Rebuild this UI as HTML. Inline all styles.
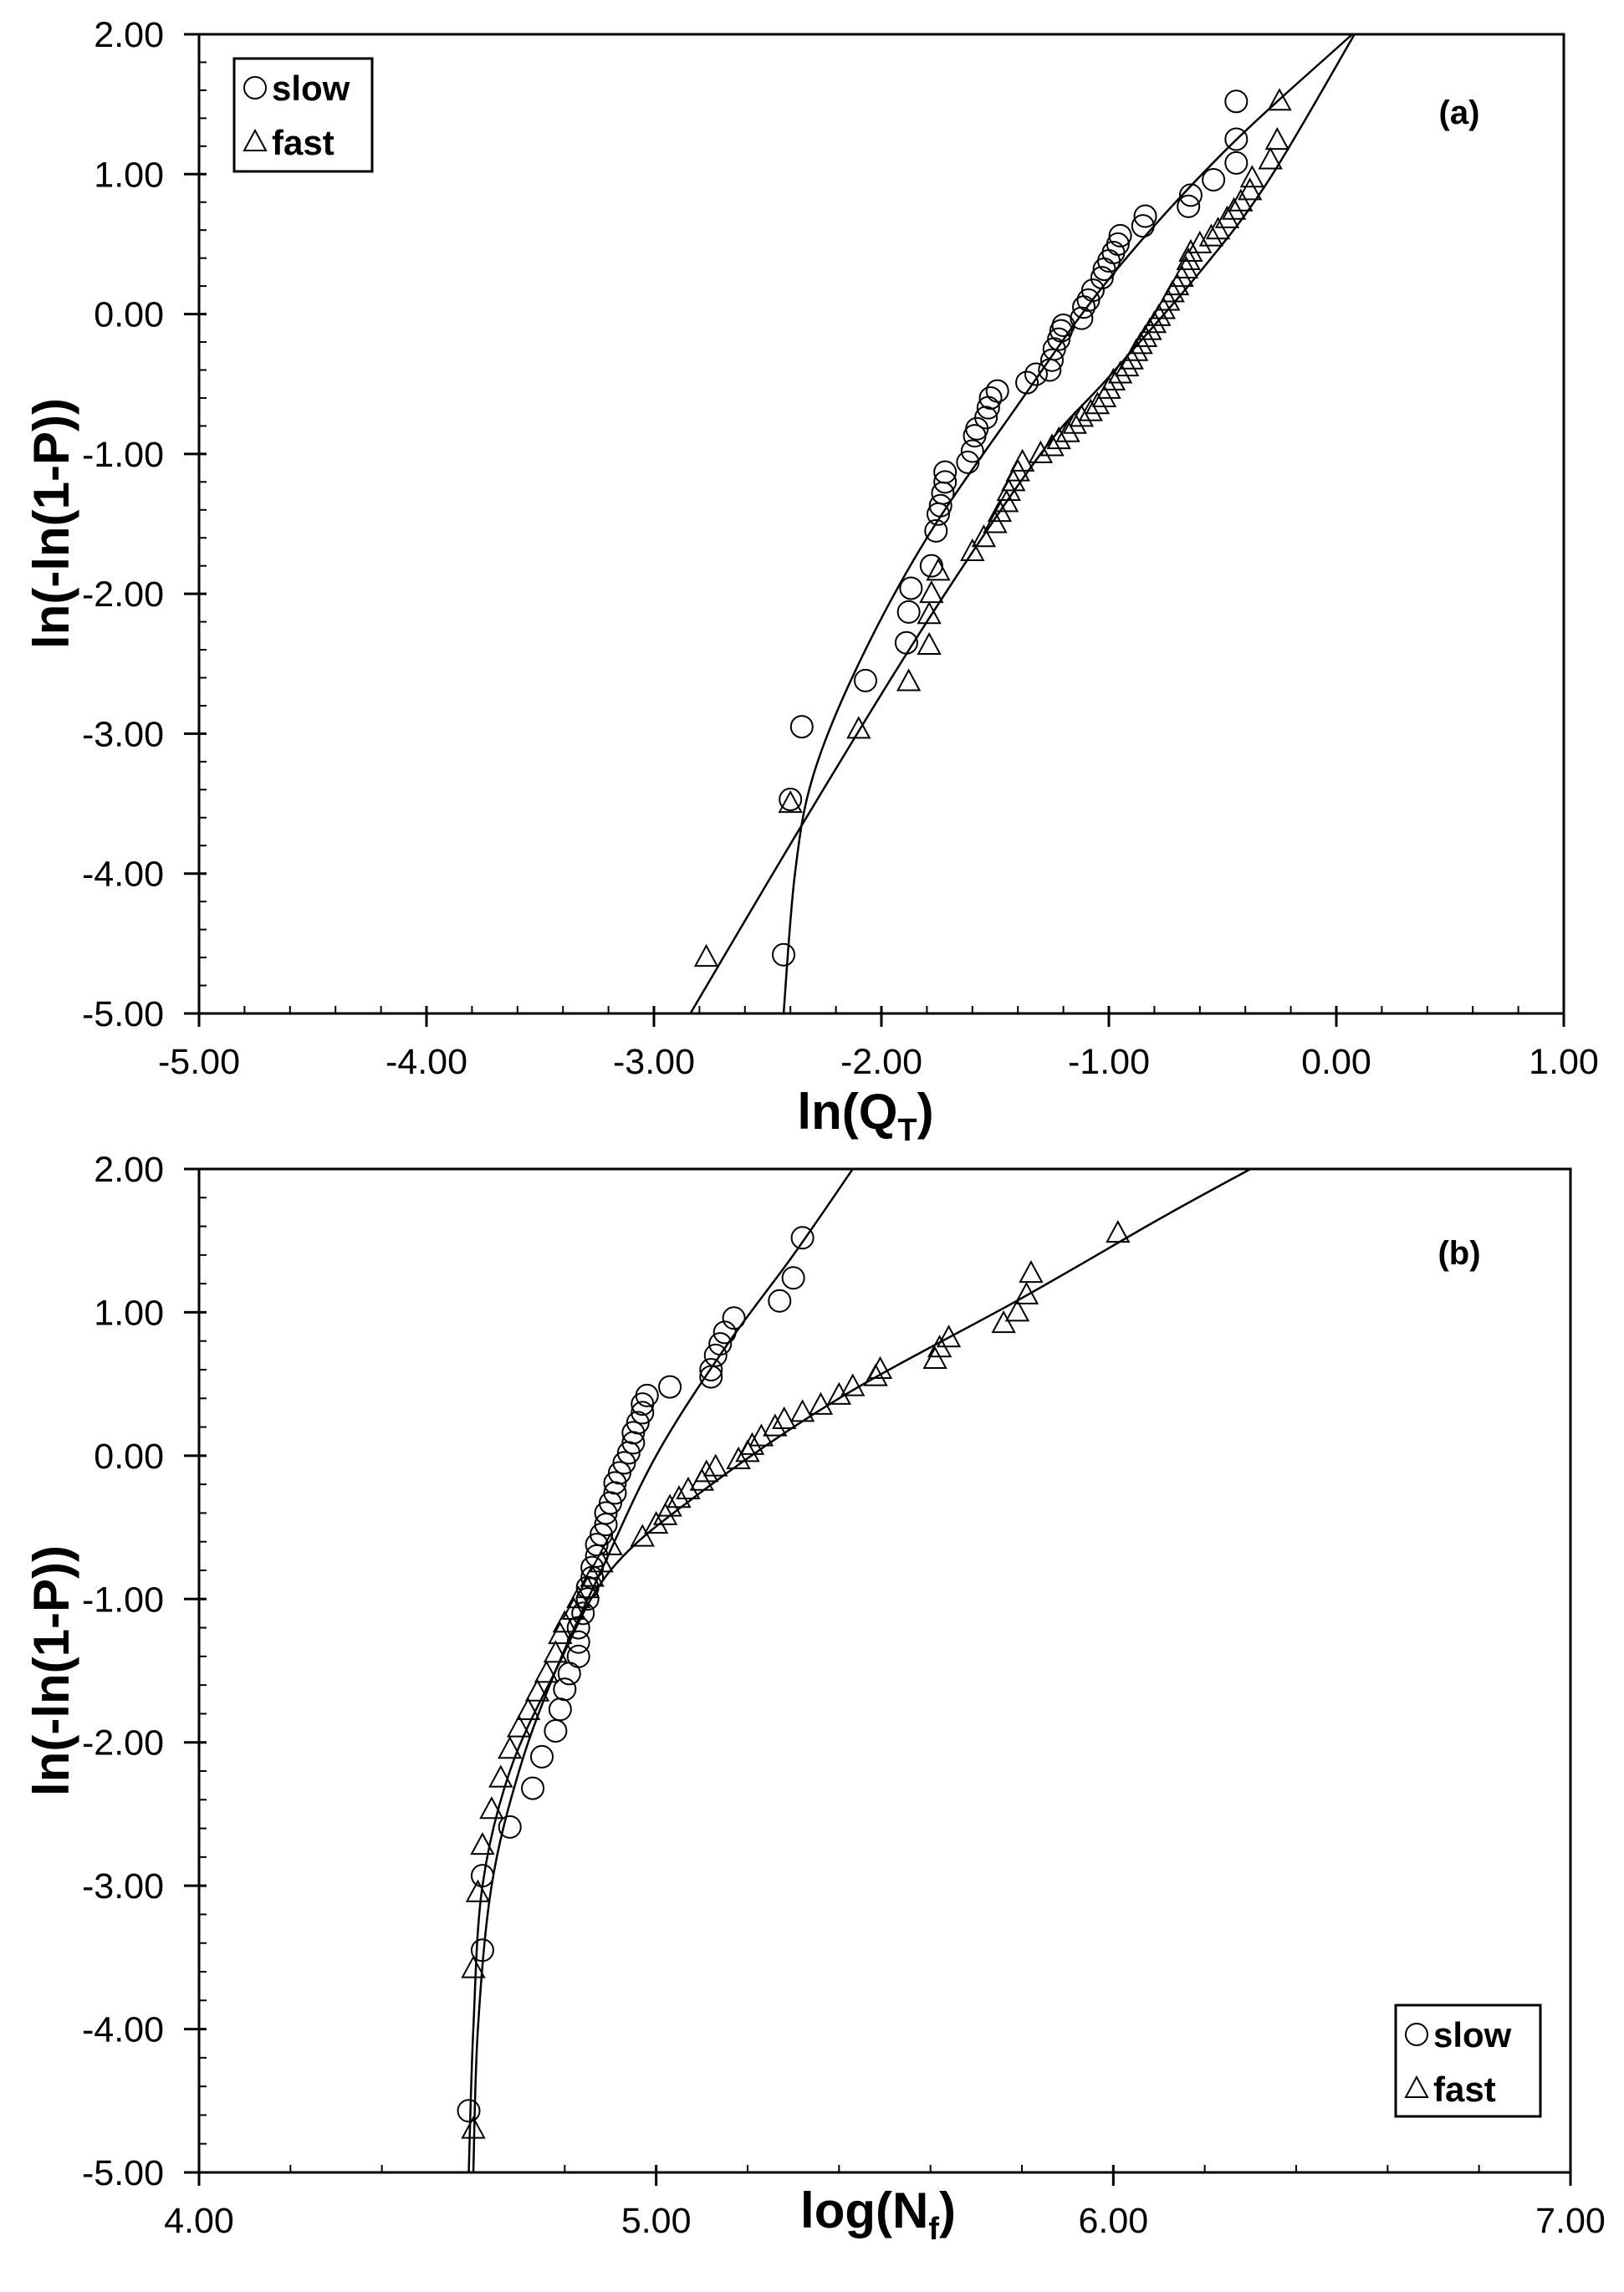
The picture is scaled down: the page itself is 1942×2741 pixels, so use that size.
<!DOCTYPE html>
<html><head><meta charset="utf-8"><style>
html,body{margin:0;padding:0;background:#fff;}
svg{display:block;}
text{font-family:"Liberation Sans",Arial,sans-serif;}
</style></head><body>
<svg id="s" width="1942" height="2741" viewBox="0 0 1942 2741" xmlns="http://www.w3.org/2000/svg"></svg>
<script>
const NS="http://www.w3.org/2000/svg";const S=document.getElementById('s');
function el(t,a,txt){const e=document.createElementNS(NS,t);for(const k in a)e.setAttribute(k,a[k]);if(txt!==undefined)e.textContent=txt;S.appendChild(e);return e;}
function plot(o){
 const X=v=>o.L+(v-o.x0)/(o.x1-o.x0)*(o.R-o.L), Y=v=>o.B-(v-o.y0)/(o.y1-o.y0)*(o.B-o.T);
 el('rect',{x:o.L,y:o.T,width:o.R-o.L,height:o.B-o.T,fill:'none',stroke:'#000','stroke-width':3});
 for(let i=0;i<=Math.round((o.x1-o.x0)/o.xm);i++){const v=o.x0+i*o.xm,x=X(v),maj=i%o.xn==0;
  el('line',{x1:x,y1:o.B-(maj?0:9),x2:x,y2:o.B+(maj?16:0),stroke:'#000','stroke-width':maj?3:2});
  if(maj){el('line',{x1:x,y1:o.B-9,x2:x,y2:o.B,stroke:'#000','stroke-width':3});
   el('text',{x:x,y:o.B+72,'font-size':43,'text-anchor':'middle'},v.toFixed(2));}}
 for(let i=0;i<=35;i++){const v=o.y0+i*0.2,y=Y(v),maj=i%5==0;
  el('line',{x1:o.L-(maj?18:0),y1:y,x2:o.L+9,y2:y,stroke:'#000','stroke-width':maj?3:2});
  if(maj)el('text',{x:o.L-42,y:y+15,'font-size':43,'text-anchor':'end'},v.toFixed(2));}
 function smooth(pts){let d='M'+X(pts[0][0])+','+Y(pts[0][1]);const P=pts.map(p=>[X(p[0]),Y(p[1])]);
  for(let i=0;i<P.length-1;i++){const p0=P[Math.max(0,i-1)],p1=P[i],p2=P[i+1],p3=P[Math.min(P.length-1,i+2)];
   d+=` C${p1[0]+(p2[0]-p0[0])/6},${p1[1]+(p2[1]-p0[1])/6} ${p2[0]-(p3[0]-p1[0])/6},${p2[1]-(p3[1]-p1[1])/6} ${p2[0]},${p2[1]}`;}return d;}
 o.curves.forEach(c=>el('path',{d:smooth(c),fill:'none',stroke:'#000','stroke-width':2.5}));
 o.slow.forEach(p=>el('circle',{cx:X(p[0]),cy:Y(p[1]),r:13,fill:'none',stroke:'#000','stroke-width':2}));
 o.fast.forEach(p=>{const x=X(p[0]),y=Y(p[1]);el('path',{d:`M${x},${y-14} L${x+13},${y+10} L${x-13},${y+10} Z`,fill:'none',stroke:'#000','stroke-width':2});});
}
plot({L:238,R:1870,T:41,B:1212,x0:-5,x1:1,y0:-5,y1:2,xm:0.2,xn:5,
 slow:[[-2.43,-4.58],[-2.40,-3.47],[-2.35,-2.95],[-2.07,-2.62],[-1.89,-2.35],[-1.88,-2.13],[-1.87,-1.96],[-1.78,-1.8],[-1.76,-1.55],[-1.75,-1.43],[-1.74,-1.37],[-1.73,-1.28],[-1.72,-1.2],[-1.72,-1.13],[-1.62,-1.06],[-1.6,-0.98],[-1.59,-0.87],[-1.58,-0.82],[-1.54,-0.74],[-1.53,-0.67],[-1.52,-0.6],[-1.49,-0.55],[-1.36,-0.49],[-1.32,-0.43],[-1.26,-0.4],[-1.25,-0.33],[-1.24,-0.25],[-1.22,-0.18],[-1.21,-0.12],[-1.2,-0.08],[-1.12,-0.03],[-1.11,0.05],[-1.09,0.1],[-1.07,0.17],[-1.03,0.26],[-1.02,0.32],[-1.0,0.38],[-0.98,0.44],[-0.96,0.5],[-0.95,0.56],[-0.85,0.63],[-0.84,0.7],[-0.65,0.77],[-0.64,0.85],[-0.54,0.96],[-0.44,1.08],[-0.44,1.25],[-0.44,1.52]],
 fast:[[-2.77,-4.6],[-2.4,-3.5],[-2.1,-2.97],[-1.88,-2.63],[-1.79,-2.37],[-1.79,-2.15],[-1.78,-2.0],[-1.75,-1.84],[-1.6,-1.7],[-1.55,-1.6],[-1.5,-1.5],[-1.48,-1.42],[-1.45,-1.35],[-1.44,-1.27],[-1.42,-1.2],[-1.4,-1.13],[-1.38,-1.06],[-1.3,-1.0],[-1.25,-0.95],[-1.22,-0.9],[-1.18,-0.85],[-1.15,-0.79],[-1.12,-0.74],[-1.08,-0.7],[-1.05,-0.65],[-1.02,-0.6],[-1.0,-0.54],[-0.98,-0.48],[-0.95,-0.43],[-0.92,-0.38],[-0.9,-0.33],[-0.88,-0.27],[-0.86,-0.22],[-0.84,-0.17],[-0.82,-0.12],[-0.8,-0.07],[-0.78,-0.02],[-0.76,0.03],[-0.74,0.09],[-0.72,0.15],[-0.7,0.2],[-0.68,0.26],[-0.66,0.32],[-0.65,0.38],[-0.64,0.44],[-0.6,0.5],[-0.55,0.55],[-0.52,0.6],[-0.48,0.68],[-0.45,0.74],[-0.42,0.8],[-0.38,0.88],[-0.37,0.97],[-0.29,1.1],[-0.26,1.24],[-0.25,1.52]],
 curves:[[[-2.43,-5],[-2.38,-4],[-2.3,-3.3],[-2.1,-2.5],[-1.8,-1.6],[-1.4,-0.65],[-1,0.25],[-0.5,1.15],[0.07,2]],
  [[-2.84,-5],[-2.33,-3.6],[-1.8,-2.2],[-1.3,-1.0],[-1.0,-0.45],[-0.6,0.3],[-0.3,0.95],[0.08,2]]]});
plot({L:238,R:1878,T:1398,B:2598,x0:4,x1:7,y0:-5,y1:2,xm:0.2,xn:5,
 slow:[[4.59,-4.57],[4.62,-3.45],[4.62,-2.93],[4.68,-2.59],[4.73,-2.32],[4.75,-2.1],[4.78,-1.92],[4.79,-1.77],[4.8,-1.63],[4.81,-1.52],[4.83,-1.4],[4.83,-1.3],[4.83,-1.2],[4.84,-1.1],[4.85,-1.0],[4.85,-0.92],[4.86,-0.85],[4.86,-0.78],[4.87,-0.7],[4.87,-0.62],[4.88,-0.55],[4.89,-0.48],[4.89,-0.4],[4.9,-0.33],[4.91,-0.26],[4.91,-0.19],[4.92,-0.12],[4.93,-0.05],[4.94,0.02],[4.95,0.09],[4.95,0.16],[4.96,0.23],[4.97,0.3],[4.97,0.36],[4.98,0.42],[5.03,0.48],[5.12,0.55],[5.12,0.6],[5.13,0.7],[5.14,0.78],[5.15,0.86],[5.17,0.96],[5.27,1.08],[5.3,1.24],[5.32,1.52]],
 fast:[[4.6,-4.7],[4.6,-3.58],[4.61,-3.05],[4.62,-2.72],[4.64,-2.47],[4.66,-2.25],[4.68,-2.05],[4.7,-1.9],[4.72,-1.78],[4.74,-1.65],[4.76,-1.52],[4.78,-1.38],[4.79,-1.25],[4.8,-1.17],[4.82,-1.08],[4.83,-1.0],[4.85,-0.93],[4.86,-0.85],[4.88,-0.75],[4.9,-0.63],[4.97,-0.57],[5.0,-0.48],[5.02,-0.42],[5.03,-0.36],[5.05,-0.3],[5.07,-0.24],[5.1,-0.18],[5.11,-0.12],[5.13,-0.08],[5.18,-0.03],[5.2,0.02],[5.21,0.07],[5.23,0.13],[5.26,0.2],[5.28,0.25],[5.32,0.3],[5.36,0.35],[5.4,0.42],[5.43,0.48],[5.48,0.55],[5.49,0.6],[5.61,0.67],[5.62,0.75],[5.64,0.82],[5.76,0.92],[5.79,1.0],[5.81,1.12],[5.82,1.27],[6.01,1.55]],
 curves:[[[4.6,-5],[4.61,-4.0],[4.64,-3.0],[4.7,-2.2],[4.78,-1.5],[4.88,-0.8],[5.0,0],[5.15,0.75],[5.3,1.4],[5.43,2]],
  [[4.59,-5],[4.6,-4],[4.62,-3],[4.68,-2.2],[4.78,-1.5],[4.9,-0.8],[5.1,-0.25],[5.4,0.4],[5.8,1.1],[6.1,1.65],[6.3,2]]]});
function legend(x,y,w,h){el('rect',{x:x,y:y,width:w,height:h,fill:'#fff',stroke:'#000','stroke-width':3});
 el('circle',{cx:x+25,cy:y+35,r:13,fill:'none',stroke:'#000','stroke-width':2});
 el('text',{x:x+45,y:y+50,'font-size':42,'font-weight':'bold'},'slow');
 const cx=x+25,cy=y+100;el('path',{d:`M${cx},${cy-14} L${cx+13},${cy+10} L${cx-13},${cy+10} Z`,fill:'none',stroke:'#000','stroke-width':2});
 el('text',{x:x+45,y:y+115,'font-size':42,'font-weight':'bold'},'fast');}
legend(280,70,165,135);legend(1669,2398,173,133);
el('text',{x:1745,y:148,'font-size':40,'font-weight':'bold','text-anchor':'middle','font-family':'Liberation Serif,serif'},'(a)');
el('text',{x:1745,y:1512,'font-size':40,'font-weight':'bold','text-anchor':'middle','font-family':'Liberation Serif,serif'},'(b)');
function ytitle(cy){el('text',{x:0,y:0,'font-size':60,'font-weight':'bold','text-anchor':'middle',transform:`translate(82,${cy}) rotate(-90)`},'ln(-ln(1-P))');}
ytitle(626);ytitle(1998);
const t1=el('text',{x:1035,y:1350,'font-size':60,'font-weight':'bold','text-anchor':'middle'},'');
t1.innerHTML='ln(Q<tspan font-size="38" dy="14">T</tspan><tspan dy="-14">)</tspan>';
const t2=el('text',{x:1050,y:2664,'font-size':60,'font-weight':'bold','text-anchor':'middle'},'');
t2.innerHTML='log(N<tspan font-size="38" dy="14">f</tspan><tspan dy="-14">)</tspan>';
</script>
</body></html>
